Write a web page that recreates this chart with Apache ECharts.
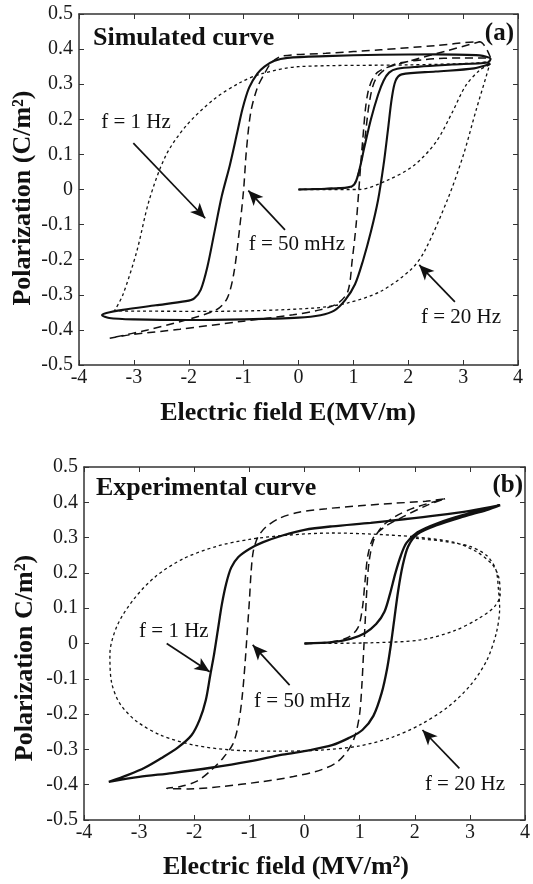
<!DOCTYPE html>
<html>
<head>
<meta charset="utf-8">
<script src="https://cdn.jsdelivr.net/npm/echarts@6/dist/echarts.min.js"></script>
<style>
  html, body { margin: 0; padding: 0; background: #fff; }
  #myChart { width: 533px; height: 884px; }
</style>
</head>
<body>
<div id="myChart"></div>
<script>
// axis ticks
var xTicks = [-4, 4, 1];
var yTicks = [-0.5, 0.5, 0.1];

// (a) simulated curves  [E, P]
var simF1 = [
  [0, 0], [0.5, 0.002], [0.9, 0.006], [1.02, 0.015], [1.1, 0.05], [1.2, 0.12], [1.32, 0.2], [1.45, 0.27],
  [1.55, 0.31], [1.65, 0.333], [1.8, 0.344], [2.2, 0.35], [2.8, 0.356], [3.45, 0.362], [3.5, 0.372],
  [3.3, 0.382], [2.5, 0.385], [1.5, 0.384], [0.5, 0.38], [-0.2, 0.375], [-0.45, 0.366], [-0.62, 0.35],
  [-0.75, 0.33], [-0.9, 0.29], [-1.02, 0.23], [-1.12, 0.16], [-1.25, 0.07], [-1.4, -0.02], [-1.53, -0.12],
  [-1.66, -0.22], [-1.78, -0.285], [-1.9, -0.31], [-2.05, -0.318], [-2.6, -0.33], [-3.2, -0.343], [-3.5, -0.352],
  [-3.58, -0.358], [-3.45, -0.366], [-3, -0.37], [-2, -0.372], [-1, -0.37], [0, -0.365], [0.4, -0.358],
  [0.65, -0.345], [0.85, -0.315], [1.03, -0.27], [1.18, -0.2], [1.32, -0.12], [1.45, -0.03], [1.55, 0.07],
  [1.63, 0.17], [1.7, 0.26], [1.77, 0.31], [1.88, 0.328], [2.5, 0.336], [3.2, 0.345], [3.5, 0.358]
];
var simF50 = [
  [0, 0], [0.7, 0.004], [0.97, 0.008], [1.1, 0.05], [1.2, 0.134], [1.3, 0.256], [1.42, 0.318], [1.72, 0.355],
  [2.3, 0.37], [3.0, 0.375], [3.5, 0.375],
  [3.3, 0.421], [2.5, 0.41], [1.5, 0.398], [0.5, 0.388], [-0.3, 0.38], [-0.5, 0.36], [-0.62, 0.33],
  [-0.75, 0.29], [-0.87, 0.22], [-0.95, 0.11], [-1.0, 0.0], [-1.08, -0.12], [-1.18, -0.24], [-1.3, -0.31],
  [-1.5, -0.343], [-2.1, -0.374], [-2.75, -0.4], [-3.44, -0.424],
  [-3.07, -0.414], [-2.16, -0.398], [-1.05, -0.376], [-0.1, -0.357], [0.39, -0.343], [0.72, -0.324],
  [0.9, -0.29], [0.98, -0.2], [1.05, -0.1], [1.1, 0.0], [1.17, 0.14], [1.27, 0.28], [1.45, 0.335],
  [2.0, 0.365], [2.7, 0.395], [3.3, 0.421]
];
var simF20 = [
  [0, 0], [1.1, 0.0], [1.6, 0.025], [2.09, 0.067], [2.5, 0.134], [2.8, 0.219], [3.04, 0.294], [3.3, 0.34],
  [3.48, 0.355],
  [3.42, 0.322], [3.24, 0.228], [3.0, 0.096], [2.72, -0.027], [2.3, -0.175], [2.05, -0.228], [1.5, -0.29],
  [0.9, -0.323], [0.27, -0.338], [-1.5, -0.347], [-3.35, -0.345],
  [-3.2, -0.3], [-2.95, -0.178], [-2.72, -0.03], [-2.42, 0.096], [-2.05, 0.181], [-1.55, 0.256],
  [-1.07, 0.304], [-0.67, 0.33], [0, 0.35], [2, 0.355], [3.2, 0.36], [3.48, 0.365]
];

// (b) experimental curves  [E, P]
var expF1 = [
  [0, 0], [0.5, 0.004], [0.85, 0.014], [1.1, 0.03], [1.3, 0.055], [1.45, 0.09], [1.55, 0.14], [1.65, 0.2],
  [1.75, 0.25], [1.85, 0.285], [2.05, 0.315], [2.4, 0.34], [2.9, 0.365], [3.3, 0.38], [3.55, 0.392],
  [3.0, 0.376], [2.4, 0.363], [1.8, 0.352], [1.2, 0.342], [0.5, 0.332], [0, 0.322], [-0.4, 0.306],
  [-0.75, 0.287], [-1.0, 0.268], [-1.2, 0.245], [-1.33, 0.215], [-1.42, 0.17], [-1.5, 0.11], [-1.57, 0.04],
  [-1.64, -0.03], [-1.71, -0.09], [-1.79, -0.16], [-1.9, -0.215], [-2.05, -0.26], [-2.3, -0.295],
  [-2.6, -0.325], [-2.9, -0.352], [-3.2, -0.372], [-3.55, -0.392],
  [-3.0, -0.378], [-2.4, -0.367], [-1.7, -0.352], [-1.0, -0.334], [-0.4, -0.315], [0.1, -0.302],
  [0.5, -0.288], [0.8, -0.268], [1.05, -0.245], [1.25, -0.205], [1.4, -0.14], [1.5, -0.07], [1.57, 0],
  [1.63, 0.07], [1.7, 0.15], [1.78, 0.22], [1.88, 0.275], [2.05, 0.31], [2.4, 0.335], [2.9, 0.36],
  [3.3, 0.378], [3.55, 0.392]
];
var expF50 = [
  [0, 0], [0.5, 0.005], [0.8, 0.018], [0.97, 0.045], [1.05, 0.1], [1.1, 0.18], [1.15, 0.25], [1.25, 0.3],
  [1.45, 0.33], [1.8, 0.36], [2.2, 0.39], [2.55, 0.41],
  [2.2, 0.403], [1.6, 0.397], [1.0, 0.39], [0.4, 0.382], [-0.1, 0.372], [-0.45, 0.355], [-0.7, 0.33],
  [-0.85, 0.3], [-0.93, 0.26], [-0.97, 0.2], [-1.0, 0.12], [-1.04, 0.03], [-1.08, -0.06], [-1.13, -0.15],
  [-1.2, -0.23], [-1.3, -0.285], [-1.48, -0.325], [-1.7, -0.36], [-1.95, -0.39], [-2.25, -0.405], [-2.5, -0.41],
  [-2.1, -0.412], [-1.5, -0.405], [-0.8, -0.392], [-0.2, -0.377], [0.3, -0.358], [0.6, -0.335], [0.8, -0.3],
  [0.92, -0.26], [1.0, -0.2], [1.04, -0.12], [1.07, -0.03], [1.1, 0.06], [1.13, 0.15], [1.17, 0.23],
  [1.25, 0.29], [1.4, 0.33], [1.65, 0.36], [2.0, 0.385], [2.55, 0.41]
];
var expF20 = [
  [0, 0], [1.2, 0.002], [2.1, 0.01], [2.7, 0.035], [3.15, 0.07], [3.45, 0.105], [3.55, 0.14],
  [3.52, 0.19], [3.4, 0.225], [3.1, 0.262], [2.7, 0.287], [2.0, 0.302], [1.2, 0.31], [0.5, 0.313],
  [-0.3, 0.307], [-1.0, 0.295], [-1.6, 0.275], [-2.2, 0.24], [-2.7, 0.19], [-3.1, 0.125], [-3.4, 0.05],
  [-3.53, -0.03], [-3.5, -0.11], [-3.35, -0.17], [-3.05, -0.22], [-2.6, -0.26], [-2.0, -0.288],
  [-1.3, -0.302], [-0.5, -0.305], [0.3, -0.302], [1.0, -0.29], [1.6, -0.265], [2.1, -0.23], [2.6, -0.18],
  [3.0, -0.12], [3.3, -0.05], [3.48, 0.03], [3.54, 0.1], [3.52, 0.15], [3.47, 0.21], [3.3, 0.25],
  [3.0, 0.275], [2.5, 0.29], [2.0, 0.298]
];

// annotations (data coordinates)
var labelsA = [['f = 1 Hz', -2.96, 0.19], ['f = 50 mHz', -0.03, -0.158], ['f = 20 Hz', 2.96, -0.366]];
var arrowsA = [[[-3.01, 0.132], [-1.70, -0.082]], [[-0.246, -0.115], [-0.915, -0.003]], [[2.85, -0.32], [2.20, -0.215]]];
var labelsB = [['f = 1 Hz', -2.37, 0.033], ['f = 50 mHz', -0.04, -0.163], ['f = 20 Hz', 2.91, -0.398]];
var arrowsB = [[[-2.50, 0.0], [-1.72, -0.08]], [[-0.27, -0.118], [-0.94, -0.004]], [[2.81, -0.354], [2.14, -0.245]]];

var serif = '"Liberation Serif", "Times New Roman", serif';
var ink = '#111';

function xAx(grid, pos) {
    return {
        type: 'value', gridIndex: grid, position: pos,
        min: xTicks[0], max: xTicks[1], interval: xTicks[2],
        axisLine: { show: true, onZero: false, lineStyle: { color: '#333', width: 1.5 } },
        axisTick: { show: true, inside: true, length: 5, lineStyle: { color: '#333' } },
        axisLabel: { show: pos === 'bottom', margin: 3, fontFamily: serif, fontSize: 20, color: '#1a1a1a',
                     showMinLabel: true, showMaxLabel: true },
        splitLine: { show: false }
    };
}
function yAx(grid, pos) {
    return {
        type: 'value', gridIndex: grid, position: pos,
        min: yTicks[0], max: yTicks[1], interval: yTicks[2],
        axisLine: { show: true, onZero: false, lineStyle: { color: '#333', width: 1.5 } },
        axisTick: { show: true, inside: true, length: 5, lineStyle: { color: '#333' } },
        axisLabel: { show: pos === 'left', margin: 6, fontFamily: serif, fontSize: 20, color: '#1a1a1a',
                     showMinLabel: true, showMaxLabel: true },
        splitLine: { show: false }
    };
}
function arrowLines(list) {
    return {
        silent: true, symbol: ['none', 'arrow'], symbolSize: [10, 15],
        label: { show: false },
        lineStyle: { color: ink, width: 1.7, type: 'solid' },
        data: list.map(function (a) { return [{ coord: a[0] }, { coord: a[1] }]; })
    };
}
function curve(name, data, g, dash, width, marks) {
    var s = {
        name: name, type: 'line', xAxisIndex: g * 2, yAxisIndex: g * 2,
        data: data, showSymbol: false, smooth: 0.3, silent: true,
        lineStyle: { color: ink, width: width, type: dash }
    };
    if (marks) s.markLine = marks;
    return s;
}

var echartsContainer = echarts.init(document.getElementById('myChart'));
echartsContainer.setOption({
    animation: false,
    grid: [
        { left: 79, top: 14, width: 439, height: 351 },
        { left: 84, top: 467, width: 442, height: 353 }
    ],
    xAxis: [xAx(0, 'bottom'), xAx(0, 'top'), xAx(1, 'bottom'), xAx(1, 'top')],
    yAxis: [yAx(0, 'left'), yAx(0, 'right'), yAx(1, 'left'), yAx(1, 'right')],
    series: [
        curve('f = 20 Hz', simF20, 0, [3, 3], 1.3),
        curve('f = 50 mHz', simF50, 0, [8, 5], 1.5),
        curve('f = 1 Hz', simF1, 0, 'solid', 2.1, arrowLines(arrowsA)),
        curve('f = 20 Hz', expF20, 1, [3, 3], 1.3),
        curve('f = 50 mHz', expF50, 1, [8, 5], 1.5),
        curve('f = 1 Hz', expF1, 1, 'solid', 2.3, arrowLines(arrowsB))
    ]
});

// texts: titles in page layout, curve labels through the axes
var texts = [
    { text: 'Electric field E(MV/m)', x: 288, y: 413, size: 26, bold: true },
    { text: 'Polarization (C/m²)', x: 23, y: 198, size: 26, bold: true, rot: true },
    { text: 'Simulated curve', x: 93, y: 38, size: 26, bold: true, align: 'left' },
    { text: '(a)', x: 514, y: 34, size: 25, bold: true, align: 'right' },
    { text: 'Electric field (MV/m²)', x: 286, y: 867, size: 26, bold: true },
    { text: 'Polarization C/m²)', x: 25, y: 658, size: 26, bold: true, rot: true },
    { text: 'Experimental curve', x: 96, y: 488, size: 26, bold: true, align: 'left' },
    { text: '(b)', x: 523, y: 486, size: 25, bold: true, align: 'right' }
];
labelsA.forEach(function (l) {
    var p = echartsContainer.convertToPixel({ gridIndex: 0 }, [l[1], l[2]]);
    texts.push({ text: l[0], x: p[0], y: p[1], size: 21 });
});
labelsB.forEach(function (l) {
    var p = echartsContainer.convertToPixel({ gridIndex: 1 }, [l[1], l[2]]);
    texts.push({ text: l[0], x: p[0], y: p[1], size: 21 });
});

echartsContainer.setOption({
    graphic: texts.map(function (t) {
        return {
            type: 'text', x: t.x, y: t.y, rotation: t.rot ? Math.PI / 2 : 0, silent: true,
            style: {
                text: t.text, fill: ink, fontFamily: serif, fontSize: t.size,
                fontWeight: t.bold ? 'bold' : 'normal',
                textAlign: t.align || 'center', textVerticalAlign: 'middle'
            }
        };
    })
});
</script>
</body>
</html>
